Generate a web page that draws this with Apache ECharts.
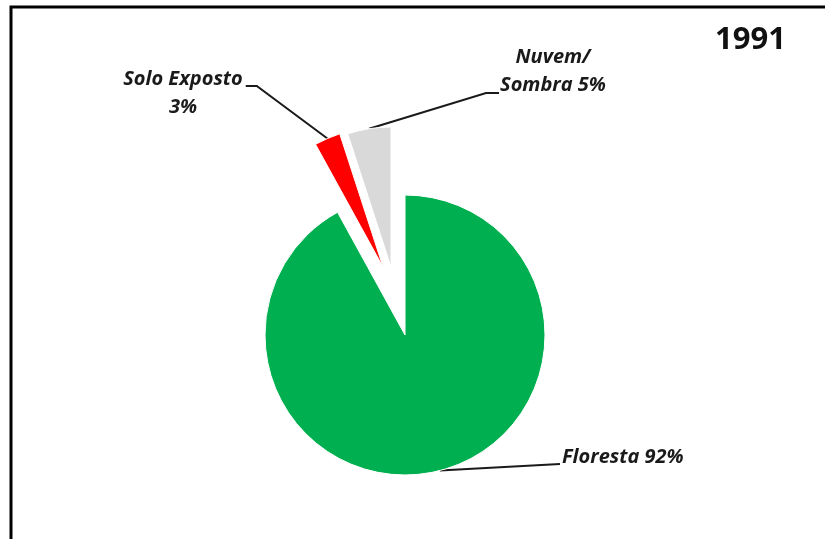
<!DOCTYPE html>
<html>
<head>
<meta charset="utf-8">
<script src="https://cdn.jsdelivr.net/npm/echarts@6/dist/echarts.min.js"></script>
<style>
  html, body { margin: 0; padding: 0; background: #ffffff; }
  #chart { width: 825px; height: 539px; }
</style>
</head>
<body>
<div id="chart"></div>
<script>
// Land-cover classes and their share of the scene
const classes = ['Floresta', 'Solo Exposto', 'Nuvem/Sombra'];
const shares = [92, 3, 5];
const labelNames = ['Floresta ', 'Solo Exposto\n', 'Nuvem/\nSombra '];
const yearText = '1991';

// Styling and placement
const sliceColors = ['#00B050', '#FF0000', '#D9D9D9'];
const pieCenter = [405, 335];
const pieRadius = 140;
// how far each slice is pulled away from the pie centre (px)
const pullOut = [[0, 0], [-22, -68], [-14, -68]];

const labelFont = {
  fontFamily: 'Open Sans',
  fontStyle: 'italic',
  fontWeight: 'bold',
  fontSize: 20,
  lineHeight: 28,
  color: '#1a1a1a'
};
const BASE = 21; // first baseline below the label box top

// label box anchor plus leader-line shape for each class
const labelSpots = [
  {
    x: 562, y: 443, align: 'left',
    line: (p0, x, y, w) => [p0, [x - 2, y + BASE]]
  },
  {
    x: 183, y: 65, align: 'center',
    line: (p0, x, y, w) => [p0, [x + w / 2 + 14, y + BASE], [x + w / 2 + 3, y + BASE]]
  },
  {
    x: 553, y: 43, align: 'center',
    line: (p0, x, y, w) => [p0, [x - w / 2 - 14, y + 28 + BASE + 1], [x - w / 2 - 1, y + 28 + BASE + 1]]
  }
];

const chart = echarts.init(document.getElementById('chart'), null, { renderer: 'canvas' });

// One pie layer per class so that each slice can be pulled out on its own;
// every layer carries the full data so the angles stay shared.
const pieLayers = classes.map((cls, k) => ({
  type: 'pie',
  name: cls,
  center: [pieCenter[0] + pullOut[k][0], pieCenter[1] + pullOut[k][1]],
  radius: pieRadius,
  startAngle: 90,
  clockwise: true,
  avoidLabelOverlap: false,
  silent: true,
  emphasis: { disabled: true },
  label: Object.assign({
    show: true,
    formatter: (p) => labelNames[p.dataIndex] + p.value + '%'
  }, labelFont),
  labelLine: {
    show: true,
    lineStyle: { color: '#1a1a1a', width: 2 }
  },
  labelLayout: function (params) {
    const spot = labelSpots[params.dataIndex];
    const p0 = params.labelLinePoints ? params.labelLinePoints[0] : null;
    const w = params.labelRect.width;
    const out = { x: spot.x, y: spot.y, align: spot.align, verticalAlign: 'top' };
    if (p0) out.labelLinePoints = spot.line(p0, spot.x, spot.y, w);
    return out;
  },
  data: classes.map((name, i) => {
    const own = i === k;
    return {
      name: name,
      value: shares[i],
      itemStyle: own
        ? { color: sliceColors[i], borderColor: '#ffffff', borderWidth: 1 }
        : { color: 'rgba(0,0,0,0)', borderWidth: 0 },
      label: { show: own },
      labelLine: { show: own }
    };
  })
}));

chart.setOption({
  animation: false,
  backgroundColor: '#ffffff',
  tooltip: { show: false },
  title: {
    text: yearText,
    left: 710,
    top: 20,
    textStyle: { fontFamily: 'Open Sans', fontWeight: 'bold', fontSize: 31, color: '#111111' }
  },
  graphic: [{
    type: 'rect',
    shape: { x: 11, y: 7, width: 900, height: 700 },
    style: { fill: 'none', stroke: '#000000', lineWidth: 3 },
    silent: true
  }],
  series: pieLayers
});
</script>
</body>
</html>
